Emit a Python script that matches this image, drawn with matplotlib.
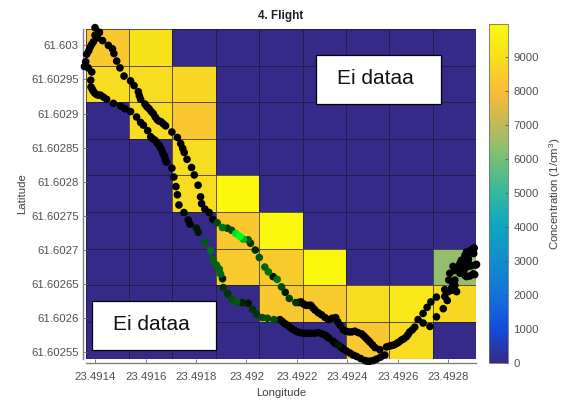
import numpy as np
import matplotlib
matplotlib.use("Agg")
import matplotlib.pyplot as plt
from matplotlib.colors import LinearSegmentedColormap
from matplotlib.patches import Rectangle

plt.rcParams['font.family'] = ['Liberation Sans', 'DejaVu Sans']
plt.rcParams['mathtext.default'] = 'regular'

# Gridded concentration, rows from north to south
grid_values = [
    [8300, 9100, 0, 0, 0, 0, 0, 0, 0],
    [8900, 8900, 8800, 0, 0, 0, 0, 0, 0],
    [0, 8900, 8300, 0, 0, 0, 0, 0, 0],
    [0, 0, 8900, 0, 0, 0, 0, 0, 0],
    [0, 0, 8900, 9900, 0, 0, 0, 0, 0],
    [0, 0, 0, 8300, 9900, 0, 0, 0, 0],
    [0, 0, 0, 8400, 8400, 9900, 0, 0, 6400],
    [0, 0, 0, 0, 8300, 8400, 8900, 9300, 8800],
    [0, 0, 0, 0, 0, 0, 8300, 8900, 0],
]
x_ticks = [23.4914, 23.4916, 23.4918, 23.492, 23.4922, 23.4924, 23.4926, 23.4928]
x_tick_labels = ['23.4914', '23.4916', '23.4918', '23.492', '23.4922', '23.4924', '23.4926', '23.4928']
y_ticks = [61.603, 61.60295, 61.6029, 61.60285, 61.6028, 61.60275, 61.6027, 61.60265, 61.6026, 61.60255]
y_tick_labels = ['61.603', '61.60295', '61.6029', '61.60285', '61.6028', '61.60275', '61.6027', '61.60265', '61.6026', '61.60255']
cbar_ticks = [0, 1000, 2000, 3000, 4000, 5000, 6000, 7000, 8000, 9000]

# Track, stored as micro-degree offsets from 23.49 E and 61.60 N, with point concentration (0-1 green level)
west_lon = [1399,1416,1399,1392,1379,1366,1362,1357,1372,1386,1382,1383,1392,1405,1421,1445,1472,1501,1518,1540,1564,1580,1591,1608,1620,1637,1653,1663,1674,1683,1704,1712,1720,1726,
            1732,1752,1769,1776,1802,1809,1835,1858,1868,1881,1892,1897,1905,1908,1925,1941,1961,1983,2007,2024,2040,2063,2083,2109,2133,2153,2172,2192,2212,2236,2258,2285,2314,2327,2344,2364,2384,2411,2437,2470,2490,2516,2549]
west_lat = [3026,3019,3015,3005,2997,2987,2976,2969,2967,2961,2949,2939,2933,2928,2927,2921,2915,2911,2907,2903,2895,2887,2883,2875,2866,2861,2854,2847,2838,2829,2820,2807,2793,2781,
            2766,2755,2744,2738,2732,2726,2711,2699,2686,2678,2672,2665,2658,2645,2636,2628,2624,2623,2622,2613,2606,2601,2600,2598,2598,2592,2587,2582,2579,2578,2578,2579,2575,2571,2566,2561,2555,2549,2544,2538,2537,2540,2546]
west_c = [0]*34 + [0,0,0,0,.1,.1,.35,.45,.4,.4,.4,.4,.1,.2,.2,.3,.35,.15,.1,.2,.2,.3,.3,.3,.05] + [0]*10 + [.1] + [0]*7
east_lon = [1416,1429,1452,1468,1474,1485,1498,1514,1540,1554,1571,1580,1597,1614,1630,1646,1661,1679,1704,1726,1739,1747,1753,1764,1782,1793,1808,1818,
            1822,1835,1852,1866,1884,1905,1924,1941,1958,1974,1987,2007,2016,2035,2051,2073,2087,2106,2122,2139,2154,2170,2196,2216,2236,2256,2272,2298,2325,2354,2371,2384,2407,2430,2457,2474,2490,2510,
            2529,2556,2576,2596,2615,2635,2648,2668,2681,2701,2728,2754,2781,2797,2814,2827,2827,2847,2867,2900,2910,2900,2867,2860,2880,2902,2873,2847,2827,2787,2754,2732,2717,2701]
east_lat = [3019,3007,3000,2995,2988,2977,2967,2955,2948,2941,2932,2921,2914,2907,2900,2891,2888,2882,2873,2865,2856,2849,2843,2833,2821,2810,2795,2778,
            2768,2760,2755,2745,2740,2733,2732,2729,2724,2720,2716,2715,2710,2700,2689,2675,2668,2661,2657,2646,2638,2629,2623,2624,2619,2619,2612,2605,2598,2601,2590,2583,2580,2581,2577,2571,2565,2557,
            2554,2558,2560,2563,2568,2573,2580,2587,2598,2593,2588,2602,2614,2626,2641,2656,2670,2680,2692,2702,2678,2665,2663,2675,2685,2695,2697,2670,2648,2642,2631,2624,2616,2607]
east_c = [0]*32 + [.3,.45,.25,.3,.9,1,.7,.35,.2,.15,.35,.4,.45,.1,.45,.3,.1,.25,.2]
east_c = east_c + [0]*(len(east_lon) - len(east_c))
# Further black dots: dense stretches of the track and the turnaround cluster
extra_lon = [2143,2162,2182,2202,2224,2247,2272,2300,2320,2354,2374,2397,2424,2453,2480,2503,2532,
             2206,2226,2246,2264,2285,2312,2340,2362,2395,2418,2443,2466,2482,2500,2566,2586,2605,2625,2641,2658,
             1388,1398,1413,1433,1628,1645,1658,1668,1678,1575,1605,1622,1638,1653,1670,1408,1385,1374,
             2904,2887,2873,2864,2853,2840,2820,2807,2803,2820,2834,2814,2801,2787,2913,2893,2880,2864,2873,2906,2887,2847,2880,2853]
extra_lat = [2595,2590,2584,2580,2578,2578,2578,2577,2573,2563,2558,2552,2546,2541,2537,2538,2543,
             2623,2621,2619,2615,2608,2601,2600,2595,2581,2580,2579,2574,2568,2561,2559,2561,2565,2570,2576,2583,
             2936,2930,2927,2924,2863,2857,2850,2842,2833,2926,2910,2903,2895,2889,2885,3011,3001,2992,
             2703,2699,2692,2685,2679,2673,2676,2666,2656,2649,2639,2644,2639,2632,2679,2677,2676,2671,2661,2664,2662,2666,2688,2685]

W, H = 563, 400
fig = plt.figure(figsize=(W/100, H/100), dpi=100)
ax = fig.add_axes([85.7/W, 1-358.5/H, (476-85.7)/W, (358.5-29)/H])

parula = LinearSegmentedColormap.from_list('parula', [
    (0.0, (0.208, 0.165, 0.529)), (0.1, (0.07, 0.30, 0.85)), (0.2, (0.08, 0.45, 0.85)),
    (0.3, (0.07, 0.55, 0.80)), (0.4, (0.05, 0.65, 0.75)), (0.5, (0.20, 0.72, 0.62)),
    (0.6, (0.45, 0.75, 0.48)), (0.7, (0.75, 0.73, 0.35)), (0.8, (0.98, 0.73, 0.22)),
    (0.9, (0.97, 0.87, 0.12)), (1.0, (0.98, 0.98, 0.05))])
track = LinearSegmentedColormap.from_list('track', ['#000000', '#00ff20'])

xlim = (23.491362, 23.492911)
ylim = (61.602541, 61.603024)
lon_edges = np.linspace(*xlim, 10)
lat_edges = np.linspace(ylim[1], ylim[0], 10)
mesh = ax.pcolormesh(lon_edges, lat_edges, np.array(grid_values), cmap=parula, vmin=0, vmax=9970,
                     edgecolors=(0.1, 0.1, 0.2, 0.7), linewidth=0.6)

lon = 23.49 + np.array(west_lon + east_lon + extra_lon) * 1e-6
lat = 61.60 + np.array(west_lat + east_lat + extra_lat) * 1e-6
conc = np.array(west_c + east_c + [0]*len(extra_lon), dtype=float)
order = np.argsort(conc)
ax.scatter(lon[order], lat[order], c=conc[order], cmap=track, vmin=0, vmax=1, s=30, linewidths=0, zorder=3, clip_on=False)

ax.set_xlim(*xlim)
ax.set_ylim(*ylim)
ax.set_xticks(x_ticks, x_tick_labels)
ax.set_yticks(y_ticks, y_tick_labels)
ax.tick_params(direction='in', length=3, width=0.6, color='#666666', labelcolor='#505050', labelsize=8.2)
ax.tick_params(axis='x', pad=6.5)
ax.tick_params(axis='y', pad=3)
for side in ('top', 'right'):
    ax.spines[side].set_visible(False)
for side, offset in (('left', 2), ('bottom', 3.3)):
    ax.spines[side].set_position(('outward', offset))
    ax.spines[side].set_color('#808080')
    ax.spines[side].set_linewidth(1.0)
ax.set_xlabel('Longitude', fontsize=8.2, color='#404040', labelpad=4.5)
ax.set_ylabel('Latitude', fontsize=8.2, color='#404040', labelpad=3)
ax.set_title('4. Flight', fontsize=8.5, fontweight='bold', color='#202020', pad=7.5)

# White "no data" boxes
for (x0, y0, x1, y1), (tx, ty) in [((316, 55, 441, 104), (375, 79)), ((92, 301, 216, 350), (151, 325))]:
    fig.add_artist(Rectangle((x0/W, 1-y1/H), (x1-x0)/W, (y1-y0)/H, transform=fig.transFigure,
                             facecolor='white', edgecolor='black', linewidth=0.9, zorder=5))
    fig.text(tx/W, 1-ty/H, 'Ei dataa', fontsize=15, ha='center', va='center', color='#111111', zorder=6)

cax = fig.add_axes([489/W, 1-363/H, 19/W, (363-24)/H])
cb = fig.colorbar(mesh, cax=cax, ticks=cbar_ticks)
cb.ax.tick_params(direction='in', length=2, width=0.6, color='#555555', labelcolor='#505050', labelsize=8.2, pad=4)
cb.outline.set_edgecolor('#707070')
cb.outline.set_linewidth(0.6)
cb.set_label('Concentration (1/cm$^3$)', fontsize=8.2, color='#404040', labelpad=6)

fig.savefig('out.png', dpi=100)
